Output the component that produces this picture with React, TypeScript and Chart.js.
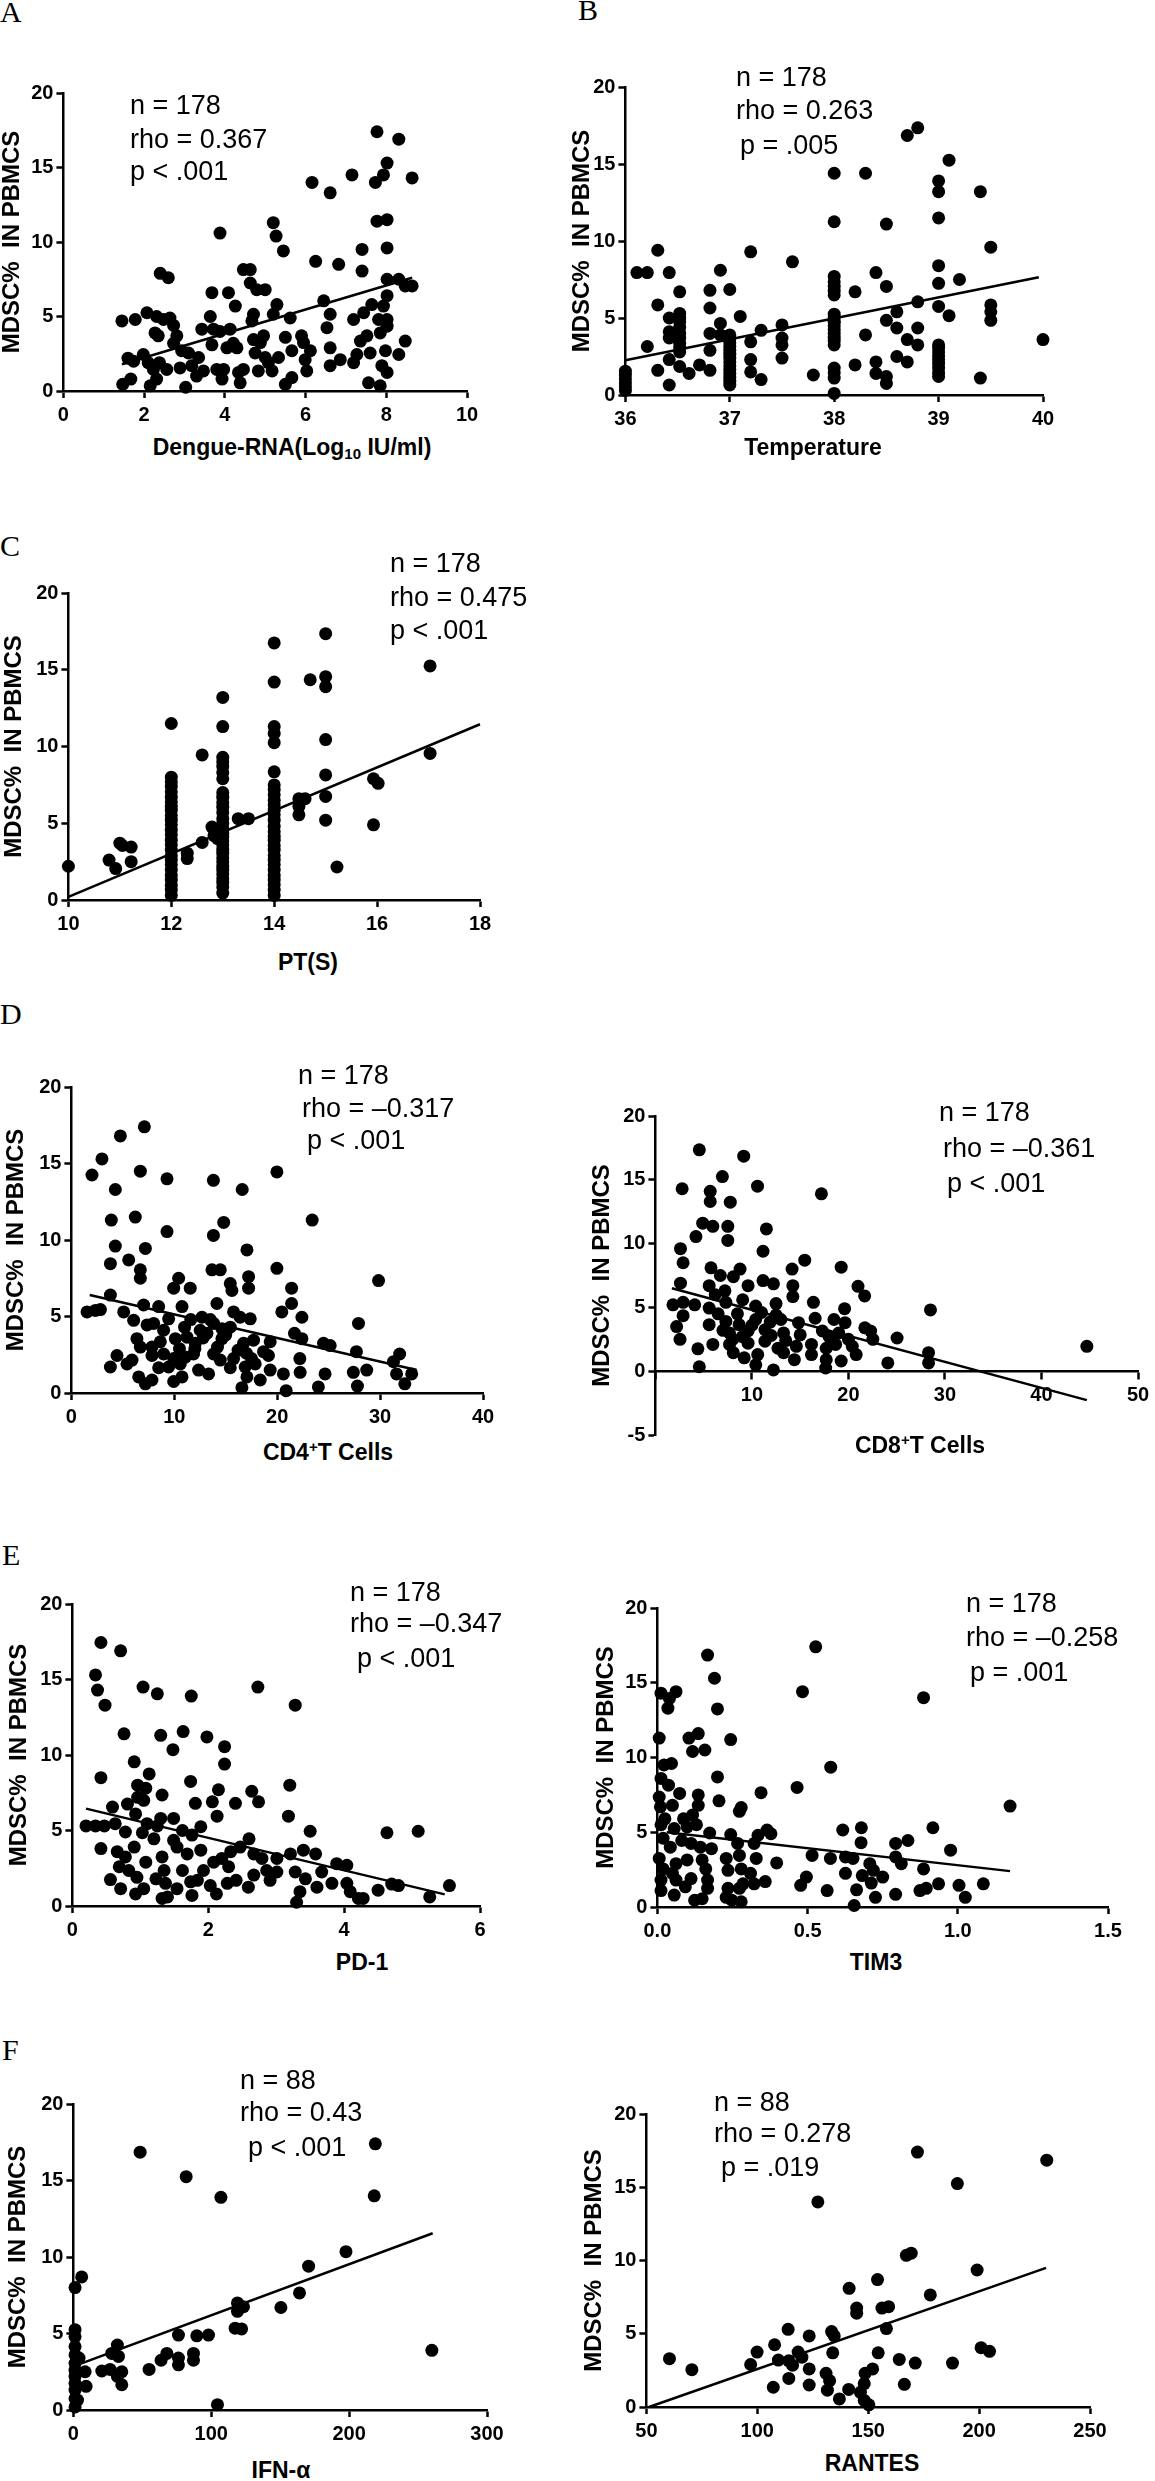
import React, { useEffect, useRef } from 'react';
import { Chart, registerables } from 'chart.js';

Chart.register(...registerables);

// ---------------- data ----------------
// Panel A: Dengue-RNA (log10 IU/ml) vs MDSC%
const dengueRna = [1.45,1.47,1.67,1.6,1.74,1.78,2.07,1.98,2.1,2.15,2.23,2.27,2.35,2.31,2.4,2.6,2.48,2.64,2.73,2.38,2.31,2.56,2.73,2.81,2.89,2.93,3.03,3.1,3.18,3.3,3.35,3.43,3.47,3.64,3.68,3.68,3.72,3.8,3.88,3.88,3.93,3.97,4.05,4.09,4.13,4.21,4.26,4.3,4.34,4.38,4.46,4.46,4.63,4.63,4.67,4.71,4.71,4.75,4.79,4.83,4.88,4.96,5.0,5.0,5.08,5.17,5.2,5.2,5.27,5.29,5.33,5.45,5.5,5.5,5.62,5.66,5.66,5.9,5.95,5.99,6.03,6.12,6.16,6.25,6.45,6.53,6.61,6.61,6.61,6.61,6.82,6.86,7.15,7.19,7.19,7.27,7.36,7.4,7.4,7.44,7.52,7.6,7.56,7.64,7.73,7.77,7.77,7.81,7.85,7.85,7.89,7.93,7.93,7.98,8.02,8.02,8.02,8.02,8.02,8.02,8.02,8.02,8.31,8.31,8.31,8.47,8.47,8.64,8.64];
const mdscA = [4.7,0.45,0.8,2.2,2.0,4.8,5.25,2.45,1.9,0.35,1.45,3.9,3.7,5.0,7.9,7.6,4.8,4.9,4.4,1.9,0.8,1.45,3.2,3.7,1.55,2.7,0.25,2.55,1.7,1.0,2.25,4.15,1.35,5.0,6.6,3.1,4.15,1.45,4.0,10.6,0.8,1.45,2.9,6.6,4.15,3.2,5.7,2.9,1.25,0.55,1.45,8.15,8.15,7.25,4.7,5.15,3.45,2.55,6.8,1.35,3.25,3.7,6.8,2.25,1.9,1.35,5.15,11.3,10.4,5.8,2.25,9.4,3.6,0.45,4.9,2.7,0.9,3.7,3.25,2.1,1.35,2.7,14.0,8.7,6.05,4.25,5.15,13.3,2.9,1.7,8.5,2.1,14.5,4.8,1.9,2.45,3.35,9.5,8.05,5.25,3.7,2.55,0.55,5.8,14.0,17.4,11.4,4.8,3.9,0.35,1.7,14.5,5.7,2.7,11.5,9.6,1.25,15.3,7.5,6.4,4.8,4.35,7.5,2.45,16.9,3.35,7.05,14.3,7.05];
const fitAx = [1.45, 8.64];
const fitAy = [1.8, 7.6];

// Panel B: Temperature vs MDSC%
const temperature = [36,36,36,36,36,36,36.11,36.21,36.21,36.31,36.31,36.31,36.42,36.42,36.42,36.42,36.42,36.42,36.52,36.52,36.52,36.52,36.52,36.52,36.52,36.52,36.52,36.52,36.52,36.61,36.71,36.81,36.81,36.81,36.81,36.81,36.91,36.91,36.91,37,37,37,37,37,37,37,37,37,37,37,37,37,37,37,37.1,37.2,37.2,37.2,37.2,37.3,37.3,37.5,37.5,37.5,37.5,37.6,37.8,38,38,38,38,38,38,38,38,38,38,38,38,38,38,38,38,38,38,38,38,38,38.2,38.2,38.3,38.3,38.4,38.4,38.4,38.5,38.5,38.5,38.5,38.5,38.6,38.6,38.6,38.7,38.7,38.7,38.8,38.8,38.8,38.8,39,39,39,39,39,39,39,39,39,39,39,39,39,39,39,39.1,39.1,39.2,39.4,39.4,39.5,39.5,39.5,39.5,40,40];
const mdscB = [0.3,0.55,0.8,1.05,1.3,1.55,7.95,7.95,3.15,9.4,5.85,1.6,7.95,5.0,4.1,3.7,2.3,0.65,6.7,5.3,5.0,4.75,4.4,4.0,3.7,3.35,3.05,2.8,1.85,1.4,1.95,6.8,5.65,4.0,2.9,1.6,8.1,4.65,3.9,6.85,0.65,0.9,1.15,1.4,1.65,1.9,2.15,2.4,2.65,2.9,3.15,3.4,3.65,3.9,5.1,9.3,3.45,2.3,1.5,4.2,1.0,4.55,3.7,3.25,2.4,8.65,1.3,14.4,11.25,7.7,7.35,7.05,6.75,6.5,5.25,5.0,4.75,4.5,4.25,4.0,3.75,3.5,3.25,1.75,1.45,1.1,0.1,4.75,1.95,6.7,3.9,14.4,2.15,1.4,7.95,7.05,4.85,1.2,0.75,11.1,4.35,2.5,5.4,3.6,2.15,16.85,6.05,4.35,3.25,17.35,13.9,11.5,8.4,7.25,5.75,3.25,3.05,2.8,2.55,2.3,2.05,1.75,1.45,1.2,13.2,5.15,15.25,7.5,1.1,13.2,5.85,5.4,4.85,9.6,3.6];
const fitBx = [36, 39.96];
const fitBy = [2.25, 7.65];

// Panel C: PT(S) vs MDSC%
const ptSeconds = [10,10.79,10.92,11.0,11.22,11.22,11.05,12,12,12,12,12,12,12,12,12,12,12,12,12,12,12,12,12,12,12,12,12,12,12,12,12,12,12.31,12.31,12.6,12.6,12.79,12.83,12.9,13,13,13,13,13,13,13,13,13,13,13,13,13,13,13,13,13,13,13,13,13,13,13,13,13,13,13,13,13,13,13.3,13.5,14,14,14,14,14,14,14,14,14,14,14,14,14,14,14,14,14,14,14,14,14,14,14,14,14,14,14,14,14,14.48,14.48,14.48,14.6,14.7,15,15,15,15,15,15,15,15.22,15.93,15.93,16.02,17.03,17.03];
const mdscC = [2.2,2.6,2.05,3.7,3.45,2.5,3.55,11.5,8.0,7.7,7.4,7.05,6.7,6.4,6.1,5.85,5.5,5.2,4.9,4.55,4.25,3.9,3.6,3.25,2.9,2.6,2.3,1.95,1.6,1.3,0.95,0.65,0.3,3.05,2.7,3.75,9.45,4.75,4.2,4.0,13.2,11.3,9.3,9.0,8.7,8.3,7.9,7.0,6.7,6.35,6.05,5.7,5.3,5.0,4.65,4.35,4.1,3.85,3.6,3.3,3.05,2.75,2.5,2.2,1.95,1.7,1.4,1.15,0.85,0.45,5.3,5.3,16.75,14.2,11.3,10.85,10.25,8.35,7.5,7.2,6.85,6.5,6.2,5.85,5.55,5.2,4.8,4.45,4.15,3.9,3.55,3.25,2.9,2.6,2.3,1.95,1.6,1.3,1.0,0.65,0.3,6.6,5.55,6.1,6.6,14.35,17.35,14.55,13.9,10.45,8.15,6.75,5.2,2.15,4.9,7.9,7.6,15.25,9.55];
const fitCx = [10, 18];
const fitCy = [0.2, 11.45];

// Panel D (left): CD4+ T cells vs MDSC%
const cd4Cells = [2.0,2.97,4.76,7.09,4.27,6.7,9.29,13.8,16.6,19.97,23.4,3.88,6.21,9.29,13.8,14.8,4.27,7.19,17.06,3.79,5.57,6.7,6.7,13.66,14.47,19.97,29.85,17.22,17.22,21.4,10.42,9.94,11.55,15.44,15.6,3.79,7.02,8.48,10.75,14.14,21.4,20.45,1.52,2.33,2.82,5.08,6.05,9.45,12.69,15.76,16.4,17.38,22.4,7.35,7.99,8.96,12.52,13.82,14.63,15.44,6.37,6.7,7.83,8.64,10.1,11.23,12.04,13.17,14.63,16.73,17.7,19.32,21.68,22.4,24.5,25.15,27.7,27.9,31.9,4.43,5.89,7.83,8.96,9.94,11.07,11.87,13.82,14.47,15.76,17.5,18.67,19.15,22.2,3.79,5.4,8.48,9.45,10.58,12.36,13.33,15.44,16.89,17.86,19.32,20.6,22.23,24.65,27.4,28.7,31.3,31.6,33.07,6.54,7.19,7.83,9.94,10.75,17.06,18.35,16.57,20.87,24.0,27.8,32.4,11.0,12.0,13.5,14.2,10.5,11.6,15.0,12.8,16.2,17.0];
const mdscD1 = [14.25,15.3,16.8,17.4,13.3,14.5,14.0,13.9,13.3,14.45,11.3,11.3,11.5,10.55,10.3,11.15,9.6,9.45,9.35,8.45,8.7,8.05,7.5,8.05,8.05,8.15,7.35,7.6,6.85,6.85,7.5,6.85,6.85,7.15,6.7,6.4,5.75,5.65,5.65,5.85,5.85,5.3,5.3,5.4,5.45,5.3,4.75,4.85,4.95,5.3,4.95,4.85,4.95,4.45,4.55,4.1,4.1,4.55,4.2,4.3,3.55,3.0,3.0,3.35,3.55,3.65,3.25,3.9,3.55,3.25,3.45,3.35,3.9,3.55,3.25,3.1,2.7,4.55,2.55,2.45,2.15,2.45,2.55,2.25,2.35,2.55,2.55,2.15,2.25,2.25,2.7,2.45,2.25,1.7,1.9,1.65,1.7,1.9,1.5,1.25,1.65,1.7,1.9,1.5,1.25,1.35,1.25,1.35,1.5,2.05,1.25,1.25,1.05,0.6,0.85,0.75,1.05,1.05,0.85,0.35,0.15,0.4,0.45,0.6,4.3,2.9,4.8,3.0,2.9,4.8,3.8,3.6,2.8,2.6];
const fitD1x = [1.78, 33.56];
const fitD1y = [6.4, 1.5];

// Panel D (right): CD8+ T cells vs MDSC%
const cd8Cells = [4.55,9.15,6.94,2.77,10.58,17.2,5.68,5.68,7.76,4.9,5.95,7.5,7.5,11.5,4.2,2.6,11.15,2.87,15.47,19.25,5.76,8.77,14.16,6.73,8.08,2.6,11.15,12.23,9.6,14.24,20.99,5.57,21.68,1.82,2.87,4.07,5.57,7.3,9.04,10.39,12.5,14.24,16.37,19.6,28.5,2.87,5.57,7.3,8.67,10.39,11.9,13.0,14.83,16.55,18.5,19.65,2.2,7.68,9.6,11.35,13.28,15.0,17.3,21.7,22.3,25.04,2.55,4.4,5.95,7.68,9.6,11.35,12.7,14.6,16.17,17.7,18.67,20.4,22.53,8.07,9.2,10.6,13.28,14.4,16.17,17.7,19.25,20.8,28.3,28.3,4.55,10.4,12.23,17.64,24.08,44.7,8.5,9.0,10.0,11.0,12.0,12.5,13.5,6.5,7.0,8.0,18.0,19.0,20.0,6.2,7.2];
const mdscD2 = [17.35,16.85,15.25,14.3,14.5,13.9,14.1,13.3,13.25,11.6,11.35,11.35,10.25,11.15,10.55,9.6,9.4,8.5,8.7,8.15,8.1,8.0,8.0,7.5,7.4,6.9,7.1,6.85,6.7,6.7,6.65,6.7,5.9,5.2,5.4,5.2,4.95,5.4,5.6,5.1,5.3,5.85,5.4,4.9,4.8,4.35,3.65,3.9,3.65,4.05,3.85,4.05,3.8,4.15,4.05,3.8,3.5,3.0,3.15,3.25,3.0,2.85,3.15,3.4,3.15,2.6,2.5,1.75,2.1,2.1,2.2,2.35,1.8,1.95,2.1,1.8,2.1,1.95,2.5,1.45,1.05,1.3,1.45,0.9,1.3,0.9,0.8,1.3,1.45,0.65,0.35,0.5,0.1,0.25,0.65,1.95,4.5,2.7,3.6,4.6,2.8,4.4,2.4,4.5,3.2,2.5,2.7,3.0,2.5,6.0,6.3];
const fitD2x = [1.71, 44.7];
const fitD2y = [6.5, -2.27];

// Panel E (left): PD-1 vs MDSC%
const pd1 = [0.42,0.71,0.34,0.37,0.48,1.04,1.25,1.75,2.73,3.28,0.76,1.3,1.63,1.98,1.48,2.24,2.24,0.91,0.42,1.13,1.74,0.96,3.2,1.08,2.15,2.64,1.32,0.81,1.81,2.06,2.4,2.74,0.96,1.05,0.93,0.59,2.13,3.18,0.63,0.2,0.34,0.47,1.49,1.3,1.25,1.1,0.78,1.03,1.62,1.89,1.76,3.5,4.63,5.09,0.42,0.66,0.78,0.91,1.2,1.49,1.32,1.54,1.69,1.89,2.08,2.2,2.33,2.47,2.6,2.67,2.79,3.01,3.21,3.4,3.58,3.89,4.04,0.56,0.71,0.69,0.83,0.95,0.93,1.05,1.08,1.23,1.35,1.37,1.54,1.62,1.74,1.84,1.76,1.93,2.03,2.12,2.28,2.3,2.41,2.59,2.67,2.86,2.91,3.01,3.28,3.35,3.3,3.43,3.6,3.67,3.82,4.04,4.09,4.21,4.28,4.5,4.7,4.8,1.32,1.4,5.26,5.55];
const mdscE1 = [17.45,16.9,15.3,14.3,13.3,14.5,14.05,13.9,14.5,13.3,11.4,11.3,11.55,11.2,10.35,10.55,9.4,9.55,8.5,8.75,8.25,8.0,8.0,7.8,7.7,7.6,7.35,6.75,6.8,6.9,6.8,6.9,7.2,7.0,6.1,6.55,5.95,5.95,5.45,5.3,5.3,5.3,5.8,5.8,5.3,5.45,4.9,4.85,5.0,5.25,4.7,4.95,4.85,4.95,3.8,3.6,3.25,3.9,4.45,4.35,3.25,3.9,3.45,3.7,2.9,3.15,3.6,3.9,4.45,3.45,3.15,3.15,3.45,3.7,3.45,2.8,2.7,1.75,1.15,2.6,2.35,1.9,0.8,1.15,2.9,1.8,2.35,1.5,1.15,2.35,1.6,1.7,0.7,2.35,1.35,0.8,1.5,2.6,1.7,1.25,2.05,2.35,1.7,2.25,2.25,0.95,0.25,1.8,1.25,2.25,1.5,1.5,0.95,0.5,0.5,1.05,1.45,1.35,0.5,0.6,0.6,1.35];
const fitE1x = [0.2, 5.48];
const fitE1y = [6.45, 0.77];

// Panel E (right): TIM3 vs MDSC%
const tim3 = [0.527,0.167,0.19,0.012,0.04,0.035,0.062,0.2,0.483,0.886,0.006,0.105,0.136,0.117,0.158,0.244,0.022,0.047,0.2,0.577,0.012,0.037,0.465,0.006,0.074,0.136,0.345,0.01,0.05,0.136,0.205,0.279,0.273,1.174,0.025,0.087,0.117,0.012,0.056,0.099,0.13,0.174,0.244,0.335,0.365,0.378,0.617,0.679,0.917,0.019,0.043,0.081,0.112,0.143,0.18,0.267,0.322,0.678,0.793,0.834,0.976,0.006,0.062,0.099,0.149,0.229,0.273,0.329,0.397,0.515,0.576,0.626,0.651,0.707,0.793,0.812,0.019,0.05,0.161,0.235,0.279,0.31,0.496,0.626,0.682,0.719,0.75,0.886,0.012,0.062,0.112,0.167,0.235,0.285,0.322,0.359,0.477,0.712,0.936,1.004,1.085,0.012,0.093,0.167,0.273,0.565,0.663,0.874,0.895,0.056,0.229,0.248,0.726,0.793,1.025,0.124,0.149,0.279,0.655];
const mdscE2 = [17.4,16.85,15.3,14.3,13.95,13.3,14.4,13.25,14.4,14.0,11.3,11.3,11.6,10.4,10.5,11.2,9.5,9.6,8.7,9.35,8.6,8.15,8.0,7.35,7.6,7.5,7.65,6.7,6.8,6.8,7.1,6.65,6.4,6.75,5.9,5.9,6.15,5.5,5.25,5.35,5.5,4.95,4.85,4.8,5.15,4.9,5.15,5.3,5.3,4.6,4.0,4.45,4.25,4.0,3.9,4.25,4.25,4.3,4.25,4.45,3.8,3.25,2.9,3.15,3.15,3.25,3.45,3.25,2.95,3.45,3.25,3.35,3.25,2.9,3.35,2.9,2.55,2.25,2.55,2.45,2.55,2.25,2.0,2.25,2.1,2.45,2.0,2.55,1.8,1.8,1.9,1.8,1.25,1.55,1.55,1.7,1.45,1.6,1.55,1.45,1.55,1.1,1.35,1.25,1.25,1.1,1.15,1.1,1.25,0.8,0.65,0.45,0.65,0.85,0.65,0.45,0.55,0.35,0.1];
const fitE2x = [0.031, 1.174];
const fitE2y = [5.0, 2.4];

// Panel F (left): IFN-alpha vs MDSC%
const ifnAlpha = [48.4,219,81.8,107,218.2,197.7,170.6,6.0,1.2,164,150.5,119,119,123.4,117.3,122,98,89.5,76.2,1.2,1.2,1.2,1.2,1.2,1.2,1.2,1.2,1.2,1.2,1.2,4.1,3.0,8.5,9.2,20.6,26.6,27.8,31.9,32.7,31.9,35.1,35.1,54.9,63.6,67.8,76.2,76.2,87.1,87.1,104.5,260];
const mdscF1 = [16.85,17.4,15.25,13.9,14.0,10.35,9.4,8.7,8.0,7.65,6.7,7.0,6.45,6.75,5.35,5.3,4.9,4.85,4.9,5.25,4.8,4.15,3.6,3.05,2.6,2.2,1.75,1.3,0.75,0.2,3.4,0.65,2.5,1.55,2.55,2.65,3.7,4.25,3.5,2.2,2.5,1.65,2.65,3.25,3.7,3.4,2.95,3.7,3.25,0.35,3.9];
const fitF1x = [0, 260.6];
const fitF1y = [2.85, 11.55];

// Panel F (right): RANTES vs MDSC%
const rantes = [172.2,230.5,190.2,127.3,167.2,169.4,199.1,154.2,141.4,178,144.8,144.8,156.2,159.2,158.2,113.9,123.4,133.5,134.7,107.8,99.9,134,154.5,60.4,70.5,97,109.5,114.2,115.9,118.4,120.1,123.4,164,171.2,188,200.9,204.7,131,132.6,114.2,107.2,123.4,131.6,141.2,137,146.5,148.6,152,148.2,148.2,150.3,166.3];
const mdscF2 = [17.4,16.85,15.25,14.0,10.35,10.5,9.35,8.7,8.1,7.65,6.75,6.4,6.75,6.85,5.35,5.3,4.85,5.15,4.85,4.25,3.75,3.7,3.7,3.3,2.55,2.9,3.2,3.15,2.85,3.75,3.4,2.6,3.25,3.0,3.0,4.05,3.8,2.3,1.8,1.95,1.35,1.5,1.15,1.2,0.55,1.0,2.3,2.6,1.6,0.45,0.15,1.55];
const fitF2x = [51.2, 230.2];
const fitF2y = [0, 9.5];

// ---------------- layout / style ----------------
const Y_TITLE = 'MDSC%  IN PBMCS';
const SANS = "'Liberation Sans', Arial, sans-serif";
const TICK_FONT = { family: SANS, size: 20, weight: 'bold' as const };
const YTITLE_FONT = { family: SANS, size: 24, weight: 'bold' as const };
const XTITLE_SIZE = 23;
const ANNOT_SIZE = 27;
const TOP_PAD = 20;
const RIGHT_PAD = 30;
const BOTTOM_PAD_ZERO_AXIS = 30;
const XAXIS_HEIGHT = 40;

const subStyle: React.CSSProperties = { fontSize: 15, verticalAlign: '-0.25em', lineHeight: 0 };
const supStyle: React.CSSProperties = { fontSize: 15, verticalAlign: '0.55em', lineHeight: 0 };

interface PanelCfg {
  key: string;
  xs: number[];
  ys: number[];
  fx: number[];
  fy: number[];
  xMin: number; xMax: number; xStep: number;
  yMin: number; yMax: number;
  xTitle: React.ReactNode;
  l: number; t: number; r: number; b: number;
  yTitleX: number; xTitleX: number; xTitleY: number;
  xAtZero?: boolean;
  xFmt?: (v: number) => string;
}

const panels: PanelCfg[] = [
  { key: 'A', xs: dengueRna, ys: mdscA, fx: fitAx, fy: fitAy, xMin: 0, xMax: 10, xStep: 2, yMin: 0, yMax: 20,
    xTitle: <>Dengue-RNA(Log<span style={subStyle}>10</span> IU/ml)</>,
    l: 63, t: 93, r: 467, b: 391, yTitleX: 12, xTitleX: 292, xTitleY: 447 },
  { key: 'B', xs: temperature, ys: mdscB, fx: fitBx, fy: fitBy, xMin: 36, xMax: 40, xStep: 1, yMin: 0, yMax: 20,
    xTitle: 'Temperature', l: 625, t: 87, r: 1043, b: 395, yTitleX: 582, xTitleX: 813, xTitleY: 447 },
  { key: 'C', xs: ptSeconds, ys: mdscC, fx: fitCx, fy: fitCy, xMin: 10, xMax: 18, xStep: 2, yMin: 0, yMax: 20,
    xTitle: 'PT(S)', l: 68, t: 593, r: 480, b: 900, yTitleX: 14, xTitleX: 308, xTitleY: 962 },
  { key: 'D1', xs: cd4Cells, ys: mdscD1, fx: fitD1x, fy: fitD1y, xMin: 0, xMax: 40, xStep: 10, yMin: 0, yMax: 20,
    xTitle: <>CD4<span style={supStyle}>+</span>T Cells</>,
    l: 71, t: 1087, r: 483, b: 1393, yTitleX: 16, xTitleX: 328, xTitleY: 1452 },
  { key: 'D2', xs: cd8Cells, ys: mdscD2, fx: fitD2x, fy: fitD2y, xMin: 0, xMax: 50, xStep: 10, yMin: -5, yMax: 20,
    xTitle: <>CD8<span style={supStyle}>+</span>T Cells</>,
    l: 655, t: 1116, r: 1138, b: 1435, yTitleX: 602, xTitleX: 920, xTitleY: 1445, xAtZero: true,
    xFmt: (v) => (v === 0 ? '' : String(v)) },
  { key: 'E1', xs: pd1, ys: mdscE1, fx: fitE1x, fy: fitE1y, xMin: 0, xMax: 6, xStep: 2, yMin: 0, yMax: 20,
    xTitle: 'PD-1', l: 72, t: 1604, r: 480, b: 1906, yTitleX: 19, xTitleX: 362, xTitleY: 1962 },
  { key: 'E2', xs: tim3, ys: mdscE2, fx: fitE2x, fy: fitE2y, xMin: 0, xMax: 1.5, xStep: 0.5, yMin: 0, yMax: 20,
    xTitle: 'TIM3', l: 657, t: 1608, r: 1108, b: 1907, yTitleX: 606, xTitleX: 876, xTitleY: 1962,
    xFmt: (v) => v.toFixed(1) },
  { key: 'F1', xs: ifnAlpha, ys: mdscF1, fx: fitF1x, fy: fitF1y, xMin: 0, xMax: 300, xStep: 100, yMin: 0, yMax: 20,
    xTitle: 'IFN-\u03B1', l: 73, t: 2104, r: 487, b: 2410, yTitleX: 18, xTitleX: 281, xTitleY: 2470 },
  { key: 'F2', xs: rantes, ys: mdscF2, fx: fitF2x, fy: fitF2y, xMin: 50, xMax: 250, xStep: 50, yMin: 0, yMax: 20,
    xTitle: 'RANTES', l: 646, t: 2114, r: 1090, b: 2407, yTitleX: 594, xTitleX: 872, xTitleY: 2463 },
];

// annotation text blocks: [text, left, centerY]
const annotations: [string, number, number][] = [
  ['n = 178', 130, 105], ['rho = 0.367', 130, 139], ['p < .001', 130, 171],
  ['n = 178', 736, 77], ['rho = 0.263', 736, 110], ['p = .005', 740, 145],
  ['n = 178', 390, 563], ['rho = 0.475', 390, 597], ['p < .001', 390, 630],
  ['n = 178', 298, 1075], ['rho = \u20130.317', 302, 1108], ['p < .001', 307, 1140],
  ['n = 178', 939, 1112], ['rho = \u20130.361', 943, 1148], ['p < .001', 947, 1183],
  ['n = 178', 350, 1592], ['rho = \u20130.347', 350, 1623], ['p < .001', 357, 1658],
  ['n = 178', 966, 1603], ['rho = \u20130.258', 966, 1637], ['p = .001', 970, 1672],
  ['n = 88', 240, 2080], ['rho = 0.43', 240, 2112], ['p < .001', 248, 2147],
  ['n = 88', 714, 2102], ['rho = 0.278', 714, 2133], ['p = .019', 721, 2167],
];

const letters: [string, number, number][] = [
  ['A', 0, 22], ['B', 578, 20], ['C', 0, 556], ['D', 0, 1024], ['E', 2, 1565], ['F', 2, 2060],
];

function zip(xs: number[], ys: number[]) {
  return xs.map((x, i) => ({ x, y: ys[i] }));
}

function ScatterPanel({ cfg }: { cfg: PanelCfg }) {
  const ref = useRef<HTMLCanvasElement>(null);
  const canvasLeft = cfg.yTitleX - 14.4;
  const yw = cfg.l - canvasLeft;
  const plotW = cfg.r - cfg.l;
  const plotH = cfg.b - cfg.t;
  const padBottom = cfg.xAtZero ? BOTTOM_PAD_ZERO_AXIS : 0;
  const width = Math.round(yw + plotW + RIGHT_PAD);
  const height = Math.round(TOP_PAD + plotH + (cfg.xAtZero ? padBottom : XAXIS_HEIGHT));
  const top = cfg.t - TOP_PAD;

  useEffect(() => {
    const canvas = ref.current;
    if (!canvas) return;
    const chart = new Chart(canvas, {
      type: 'scatter',
      data: {
        datasets: [
          {
            type: 'line' as any,
            data: zip(cfg.fx, cfg.fy),
            borderColor: '#000',
            borderWidth: 2.5,
            pointRadius: 0,
            fill: false,
            clip: false as any,
          } as any,
          {
            data: zip(cfg.xs, cfg.ys),
            backgroundColor: '#000',
            borderColor: '#000',
            borderWidth: 0,
            pointRadius: 6.5,
            pointHoverRadius: 6.5,
            clip: false as any,
          } as any,
        ],
      },
      options: {
        responsive: false,
        maintainAspectRatio: false,
        animation: false,
        events: [],
        layout: { padding: { left: 0, top: TOP_PAD, right: RIGHT_PAD, bottom: padBottom } },
        plugins: { legend: { display: false }, tooltip: { enabled: false } },
        scales: {
          x: {
            type: 'linear',
            position: (cfg.xAtZero ? { y: 0 } : 'bottom') as any,
            min: cfg.xMin,
            max: cfg.xMax,
            ticks: {
              stepSize: cfg.xStep,
              font: TICK_FONT,
              color: '#000',
              padding: 5,
              autoSkip: false,
              maxRotation: 0,
              callback: (v: any) => (cfg.xFmt ? cfg.xFmt(Number(v)) : String(v)),
            },
            grid: { display: true, drawOnChartArea: false, drawTicks: true, tickLength: 7, tickWidth: 2.5, tickColor: '#000' },
            border: { display: true, color: '#000', width: 2.5 },
            title: { display: false },
            afterFit: (s: any) => { s.height = XAXIS_HEIGHT; },
          },
          y: {
            type: 'linear',
            position: 'left',
            min: cfg.yMin,
            max: cfg.yMax,
            ticks: {
              stepSize: 5,
              font: TICK_FONT,
              color: '#000',
              padding: 3,
              autoSkip: false,
              callback: (v: any) => String(v),
            },
            grid: { display: true, drawOnChartArea: false, drawTicks: true, tickLength: 7, tickWidth: 2.5, tickColor: '#000' },
            border: { display: true, color: '#000', width: 2.5 },
            title: { display: true, text: Y_TITLE, font: YTITLE_FONT, color: '#000', padding: 0 },
            afterFit: (s: any) => { s.width = yw; },
          },
        },
      } as any,
    });
    return () => chart.destroy();
  }, []);

  return (
    <canvas
      ref={ref}
      width={width}
      height={height}
      style={{ position: 'absolute', left: canvasLeft, top, width, height }}
    />
  );
}

export default function App() {
  return (
    <div
      style={{
        position: 'absolute',
        left: 0,
        top: 0,
        width: 1155,
        height: 2481,
        overflow: 'hidden',
        background: '#fff',
      }}
    >
      {panels.map((p) => (
        <ScatterPanel key={p.key} cfg={p} />
      ))}
      {panels.map((p) => (
        <div
          key={'x' + p.key}
          style={{
            position: 'absolute',
            left: p.xTitleX,
            top: p.xTitleY - 14,
            transform: 'translateX(-50%)',
            fontFamily: SANS,
            fontWeight: 'bold',
            fontSize: XTITLE_SIZE,
            lineHeight: '28px',
            color: '#000',
            whiteSpace: 'nowrap',
          }}
        >
          {p.xTitle}
        </div>
      ))}
      {annotations.map(([text, x, y], i) => (
        <div
          key={'t' + i}
          style={{
            position: 'absolute',
            left: x,
            top: y - 15.2,
            fontFamily: SANS,
            fontSize: ANNOT_SIZE,
            lineHeight: '31px',
            color: '#000',
            whiteSpace: 'pre',
          }}
        >
          {text}
        </div>
      ))}
      {letters.map(([text, x, baseline], i) => (
        <div
          key={'l' + i}
          style={{
            position: 'absolute',
            left: x,
            top: baseline - 25,
            fontFamily: "'Liberation Serif', serif",
            fontSize: 30,
            lineHeight: '30px',
            color: '#000',
          }}
        >
          {text}
        </div>
      ))}
    </div>
  );
}
